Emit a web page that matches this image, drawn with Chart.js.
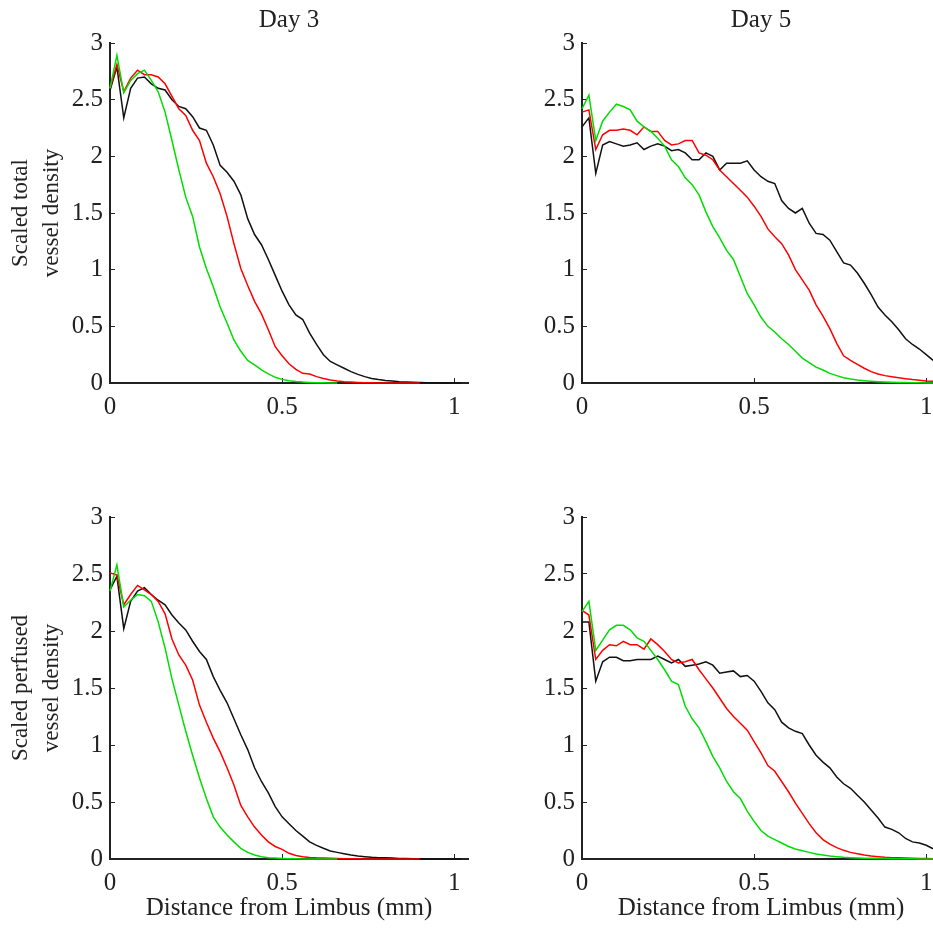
<!DOCTYPE html>
<html>
<head>
<meta charset="utf-8">
<script src="https://cdn.jsdelivr.net/npm/chart.js@4.4.1/dist/chart.umd.min.js"></script>
<style>
body { margin: 0; width: 933px; height: 928px; overflow: hidden; background: #fff; position: relative; }
canvas { position: absolute; }
</style>
</head>
<body>
<canvas id="total-day3" width="480" height="443" style="left:0;top:0"></canvas>
<canvas id="total-day5" width="480" height="443" style="left:472px;top:0"></canvas>
<canvas id="perfused-day3" width="480" height="454" style="left:0;top:474px"></canvas>
<canvas id="perfused-day5" width="480" height="454" style="left:472px;top:474px"></canvas>
<script>
// distance from limbus (mm), one bin every 0.02 mm
const dist = [0, 0.02, 0.04, 0.06, 0.08, 0.10, 0.12, 0.14, 0.16, 0.18,
  0.20, 0.22, 0.24, 0.26, 0.28, 0.30, 0.32, 0.34, 0.36, 0.38,
  0.40, 0.42, 0.44, 0.46, 0.48, 0.50, 0.52, 0.54, 0.56, 0.58,
  0.60, 0.62, 0.64, 0.66, 0.68, 0.70, 0.72, 0.74, 0.76, 0.78,
  0.80, 0.82, 0.84, 0.86, 0.88, 0.90, 0.92, 0.94, 0.96, 0.98,
  1.00, 1.02]
const xTicks = [0, 0.5, 1]
const yTicks = [0, 0.5, 1, 1.5, 2, 2.5, 3]

// total vessel density, day 3
const totalDay3Black = [2.58, 2.79, 2.34, 2.60, 2.69, 2.70, 2.64, 2.60, 2.585, 2.50,
  2.44, 2.42, 2.35, 2.25, 2.23, 2.10, 1.92, 1.86, 1.78, 1.66,
  1.45, 1.31, 1.22, 1.09, 0.95, 0.81, 0.69, 0.60, 0.56, 0.44,
  0.34, 0.25, 0.19, 0.16, 0.13, 0.10, 0.076, 0.056, 0.04, 0.03,
  0.023, 0.018, 0.012, 0.009, 0.006, 0.004, 0.003, 0.002, 0.001, 0.001,
  0, 0]
const totalDay3Red = [2.60, 2.81, 2.57, 2.69, 2.76, 2.72, 2.72, 2.70, 2.64, 2.53,
  2.42, 2.36, 2.23, 2.14, 1.94, 1.82, 1.67, 1.47, 1.23, 1.01,
  0.86, 0.72, 0.61, 0.47, 0.32, 0.24, 0.17, 0.12, 0.085, 0.08,
  0.056, 0.04, 0.026, 0.018, 0.012, 0.008, 0.005, 0.003, 0.002, 0.001,
  0.001, 0.001, 0.001, 0.001, 0.001, 0]
const totalDay3Green = [2.60, 2.89, 2.56, 2.67, 2.73, 2.76, 2.67, 2.57, 2.39, 2.14,
  1.88, 1.64, 1.47, 1.20, 1.01, 0.85, 0.67, 0.53, 0.38, 0.28,
  0.20, 0.16, 0.115, 0.08, 0.05, 0.032, 0.02, 0.013, 0.008, 0.005,
  0.003, 0.002, 0.001, 0]

// total vessel density, day 5
const totalDay5Black = [2.26, 2.34, 1.85, 2.10, 2.13, 2.11, 2.09, 2.10, 2.12, 2.06,
  2.09, 2.11, 2.09, 2.05, 2.06, 2.03, 1.97, 1.97, 2.03, 2.00,
  1.88, 1.94, 1.94, 1.94, 1.96, 1.88, 1.82, 1.78, 1.76, 1.61,
  1.54, 1.50, 1.54, 1.41, 1.32, 1.31, 1.26, 1.16, 1.06, 1.04,
  0.97, 0.88, 0.78, 0.67, 0.60, 0.54, 0.47, 0.39, 0.34, 0.30,
  0.25, 0.20]
const totalDay5Red = [2.39, 2.41, 2.06, 2.19, 2.23, 2.23, 2.24, 2.23, 2.19, 2.26,
  2.22, 2.22, 2.14, 2.10, 2.11, 2.14, 2.14, 2.03, 2.01, 1.97,
  1.88, 1.82, 1.76, 1.70, 1.64, 1.56, 1.47, 1.36, 1.29, 1.23,
  1.13, 1.00, 0.91, 0.82, 0.69, 0.59, 0.48, 0.35, 0.24, 0.20,
  0.165, 0.13, 0.10, 0.08, 0.065, 0.056, 0.047, 0.038, 0.03, 0.024,
  0.018, 0.015]
const totalDay5Green = [2.42, 2.54, 2.14, 2.31, 2.39, 2.46, 2.44, 2.41, 2.31, 2.26,
  2.22, 2.16, 2.09, 1.97, 1.91, 1.81, 1.75, 1.66, 1.51, 1.38,
  1.28, 1.17, 1.09, 0.94, 0.79, 0.69, 0.58, 0.50, 0.45, 0.39,
  0.34, 0.28, 0.22, 0.18, 0.14, 0.115, 0.085, 0.065, 0.047, 0.035,
  0.026, 0.02, 0.015, 0.011, 0.008, 0.006, 0.005, 0.004, 0.003, 0.002,
  0.001, 0.001]

// perfused vessel density, day 3
const perfusedDay3Black = [2.36, 2.48, 2.02, 2.26, 2.35, 2.38, 2.32, 2.27, 2.23, 2.14,
  2.07, 2.01, 1.91, 1.82, 1.75, 1.60, 1.48, 1.37, 1.23, 1.09,
  0.96, 0.80, 0.68, 0.58, 0.46, 0.37, 0.31, 0.25, 0.20, 0.15,
  0.12, 0.094, 0.07, 0.058, 0.047, 0.035, 0.026, 0.02, 0.015, 0.012,
  0.012, 0.008, 0.005, 0.004, 0.002, 0.001, 0.001, 0.001, 0, 0,
  0, 0]
const perfusedDay3Red = [2.51, 2.49, 2.23, 2.32, 2.40, 2.36, 2.32, 2.26, 2.15, 1.93,
  1.79, 1.70, 1.57, 1.35, 1.20, 1.06, 0.94, 0.80, 0.65, 0.47,
  0.37, 0.28, 0.21, 0.15, 0.11, 0.085, 0.05, 0.03, 0.02, 0.014,
  0.01, 0.008, 0.006, 0.004, 0.002, 0.002, 0.002, 0.001, 0.001, 0.001,
  0.001, 0.001, 0.001, 0.001, 0.001, 0]
const perfusedDay3Green = [2.35, 2.58, 2.21, 2.27, 2.32, 2.31, 2.26, 2.08, 1.85, 1.58,
  1.35, 1.12, 0.91, 0.71, 0.53, 0.37, 0.28, 0.21, 0.15, 0.094,
  0.058, 0.035, 0.02, 0.012, 0.008, 0.005, 0.003, 0.002, 0.001, 0.001,
  0.001, 0.001, 0.001, 0]

// perfused vessel density, day 5
const perfusedDay5Black = [2.08, 2.08, 1.56, 1.73, 1.77, 1.77, 1.74, 1.74, 1.75, 1.75,
  1.75, 1.78, 1.75, 1.72, 1.75, 1.69, 1.70, 1.71, 1.73, 1.70,
  1.63, 1.64, 1.65, 1.60, 1.61, 1.56, 1.47, 1.37, 1.31, 1.20,
  1.15, 1.12, 1.10, 1.00, 0.91, 0.85, 0.80, 0.72, 0.66, 0.62,
  0.56, 0.50, 0.43, 0.36, 0.28, 0.26, 0.23, 0.18, 0.15, 0.14,
  0.12, 0.09]
const perfusedDay5Red = [2.18, 2.14, 1.75, 1.83, 1.88, 1.87, 1.91, 1.88, 1.88, 1.84,
  1.93, 1.88, 1.82, 1.75, 1.72, 1.73, 1.75, 1.66, 1.58, 1.50,
  1.41, 1.32, 1.25, 1.19, 1.13, 1.03, 0.93, 0.82, 0.77, 0.68,
  0.59, 0.49, 0.40, 0.31, 0.23, 0.17, 0.13, 0.10, 0.076, 0.058,
  0.047, 0.035, 0.026, 0.02, 0.015, 0.012, 0.01, 0.008, 0.006, 0.005,
  0.004, 0.003]
const perfusedDay5Green = [2.17, 2.26, 1.83, 1.92, 2.01, 2.05, 2.05, 2.01, 1.94, 1.91,
  1.83, 1.75, 1.66, 1.56, 1.53, 1.34, 1.23, 1.15, 1.03, 0.90,
  0.80, 0.68, 0.59, 0.53, 0.42, 0.33, 0.25, 0.20, 0.17, 0.14,
  0.11, 0.088, 0.073, 0.058, 0.044, 0.035, 0.026, 0.02, 0.015, 0.012,
  0.009, 0.007, 0.006, 0.005, 0.004, 0.003, 0.003, 0.002, 0.002, 0.001,
  0.001, 0.001]

const serif = "'Liberation Serif', 'Times New Roman', serif"
const ink = "#222222"

function points(values) {
  return values.map((v, i) => ({x: dist[i], y: v}))
}

function tickList(list) {
  return scale => { scale.ticks = list.map(v => ({value: v})) }
}

function drawPanel(id, o) {
  // first dataset is painted last, so green ends up on top
  const datasets = [
    {label: "green", data: points(o.green), borderColor: "#00dd00"},
    {label: "red", data: points(o.red), borderColor: "#ff0000"},
    {label: "black", data: points(o.black), borderColor: "#111111"}
  ]
  return new Chart(document.getElementById(id), {
    type: "line",
    data: {datasets: datasets},
    options: {
      responsive: false,
      animation: false,
      devicePixelRatio: 1,
      layout: {padding: {top: o.padTop, right: 12, left: 0, bottom: 0}},
      elements: {point: {radius: 0}, line: {borderWidth: 1.5, tension: 0}},
      datasets: {line: {clip: false}},
      plugins: {
        legend: {display: false},
        tooltip: {enabled: false},
        title: {
          display: !!o.title,
          text: o.title,
          fullSize: false,
          color: ink,
          font: {family: serif, size: 25, weight: "normal"},
          padding: {top: 5, bottom: 8}
        }
      },
      scales: {
        x: {
          type: "linear",
          min: 0,
          max: 1.04,
          afterBuildTicks: tickList(xTicks),
          border: {color: ink, width: 2},
          grid: {drawOnChartArea: false, drawTicks: true, tickLength: -5, color: ink, lineWidth: 1},
          ticks: {color: ink, font: {family: serif, size: 25}, padding: 14, maxRotation: 0, autoSkip: false,
            callback: v => String(v)},
          title: {
            display: !!o.xTitle,
            text: o.xTitle,
            color: ink,
            font: {family: serif, size: 25},
            padding: {top: 0, bottom: 5}
          },
          afterFit: scale => { scale.height = o.xHeight }
        },
        y: {
          type: "linear",
          min: 0,
          max: 3,
          afterBuildTicks: tickList(yTicks),
          border: {color: ink, width: 2},
          grid: {drawOnChartArea: false, drawTicks: true, tickLength: -5, color: ink, lineWidth: 1},
          ticks: {color: ink, font: {family: serif, size: 25}, padding: 12, callback: v => String(v)},
          title: {
            display: !!o.yTitle,
            text: o.yTitle,
            color: ink,
            font: {family: serif, size: 23, lineHeight: 1.35},
            padding: {top: 5.5, bottom: 0}
          },
          afterFit: scale => { scale.width = 110 }
        }
      }
    }
  })
}

drawPanel("total-day3", {
  title: "Day 3", yTitle: ["Scaled total", "vessel density"], padTop: 0, xHeight: 60,
  black: totalDay3Black, red: totalDay3Red, green: totalDay3Green
})
drawPanel("total-day5", {
  title: "Day 5", padTop: 0, xHeight: 60,
  black: totalDay5Black, red: totalDay5Red, green: totalDay5Green
})
drawPanel("perfused-day3", {
  yTitle: ["Scaled perfused", "vessel density"], xTitle: "Distance from Limbus (mm)", padTop: 43, xHeight: 69,
  black: perfusedDay3Black, red: perfusedDay3Red, green: perfusedDay3Green
})
drawPanel("perfused-day5", {
  xTitle: "Distance from Limbus (mm)", padTop: 43, xHeight: 69,
  black: perfusedDay5Black, red: perfusedDay5Red, green: perfusedDay5Green
})
</script>
</body>
</html>
